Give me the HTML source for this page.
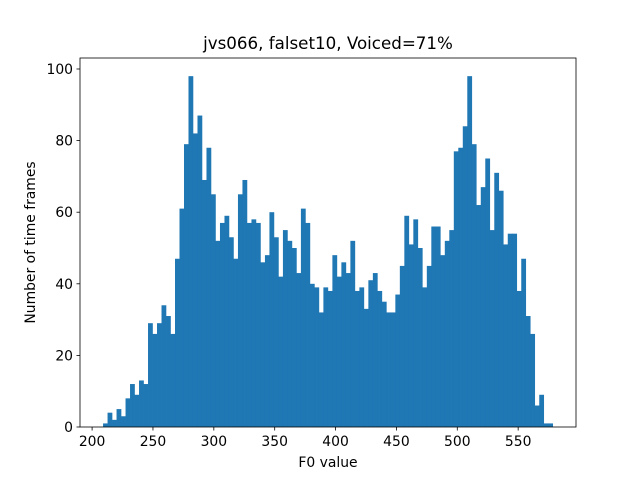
<!DOCTYPE html>
<html><head><meta charset="utf-8"><style>
html,body{margin:0;padding:0;background:#fff;}
svg{display:block;font-family:"DejaVu Sans","Liberation Sans",sans-serif;}
</style></head><body>
<svg id="chart" width="640" height="480" viewBox="0 0 640 480">
<rect width="640" height="480" fill="#fff"/>
<text x="328" y="49" text-anchor="middle" font-size="16.7" fill="#000">jvs066, falset10, Voiced=71%</text>
<g id="bars"></g>
<g id="axes"></g>
<text x="328" y="467" text-anchor="middle" font-size="13.9">F0 value</text>
<text transform="translate(35,242.5) rotate(-90)" text-anchor="middle" font-size="13.9">Number of time frames</text>
</svg>
<script>
const counts = [1,4,2,5,3,8,12,9,13,12,29,26,29,34,31,26,47,61,79,98,82,87,69,78,65,52,57,59,53,47,65,69,57,58,57,46,48,60,53,42,55,52,50,43,61,57,40,39,32,39,38,48,42,46,43,52,38,39,33,41,43,38,35,32,32,37,45,59,51,58,50,39,45,56,56,48,52,55,77,78,84,98,79,62,67,75,55,71,66,51,54,54,38,47,31,26,6,9,1,1];
const binStart = 209.0;
const binEnd = 578.4;
const xTicks = [200,250,300,350,400,450,500,550];
const yTicks = [0,20,40,60,80,100];
const NS="http://www.w3.org/2000/svg";
const L=80,R=576,T=58,B=427;
function xs(v){return 92.1+(v-200)*1.2173;}
function ys(v){return 427-v*3.58;}
const bars=document.getElementById('bars');
const bw=(binEnd-binStart)/counts.length;
counts.forEach((c,i)=>{
  const x0=xs(binStart+i*bw), x1=xs(binStart+(i+1)*bw);
  const r=document.createElementNS(NS,'rect');
  r.setAttribute('x',x0);r.setAttribute('width',x1-x0+0.3);
  r.setAttribute('y',ys(c));r.setAttribute('height',B-ys(c));
  r.setAttribute('fill','#1f77b4');
  
  
  bars.appendChild(r);
});
const ax=document.getElementById('axes');
const frame=document.createElementNS(NS,'rect');
frame.setAttribute('x',L);frame.setAttribute('y',T);frame.setAttribute('width',R-L);frame.setAttribute('height',B-T);
frame.setAttribute('fill','none');frame.setAttribute('stroke','#000');frame.setAttribute('stroke-width','0.8');


ax.appendChild(frame);
xTicks.forEach(v=>{
  const x=xs(v);
  const l=document.createElementNS(NS,'line');
  l.setAttribute('x1',x);l.setAttribute('x2',x);l.setAttribute('y1',B);l.setAttribute('y2',B+3.5);
  l.setAttribute('stroke','#000');l.setAttribute('stroke-width','0.8');
  
  
  ax.appendChild(l);
  const t=document.createElementNS(NS,'text');
  t.setAttribute('x',x);t.setAttribute('y',B+19);t.setAttribute('text-anchor','middle');t.setAttribute('font-size','13.9');
  t.textContent=v;
  
  
  ax.appendChild(t);
});
yTicks.forEach(v=>{
  const y=ys(v);
  const l=document.createElementNS(NS,'line');
  l.setAttribute('x1',L-3.5);l.setAttribute('x2',L);l.setAttribute('y1',y);l.setAttribute('y2',y);
  l.setAttribute('stroke','#000');l.setAttribute('stroke-width','0.8');
  
  
  ax.appendChild(l);
  const t=document.createElementNS(NS,'text');
  t.setAttribute('x',L-7);t.setAttribute('y',y+5);t.setAttribute('text-anchor','end');t.setAttribute('font-size','13.9');
  t.textContent=v;
  
  
  ax.appendChild(t);
});
</script>
</body></html>
